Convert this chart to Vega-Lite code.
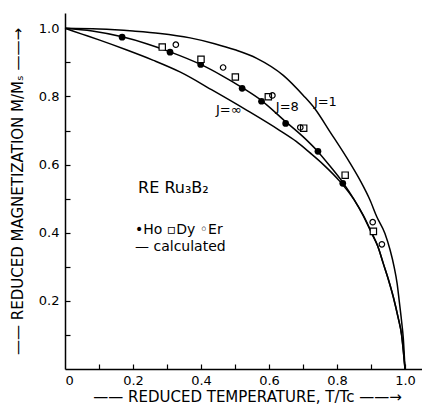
{
  "$schema": "https://vega.github.io/schema/vega-lite/v6.json",
  "width": 357,
  "height": 356,
  "autosize": "none",
  "padding": {"left": 65, "top": 13, "right": 0, "bottom": 35},
  "background": "white",
  "resolve": {"axis": {"x": "independent", "y": "independent"}},
  "config": {
    "view": {"stroke": null},
    "font": "DejaVu Sans",
    "axis": {
      "grid": false,
      "domainColor": "black",
      "domainWidth": 1.5,
      "tickColor": "black",
      "tickWidth": 1.2,
      "labelColor": "black",
      "labelFont": "DejaVu Sans",
      "labelFontSize": 13,
      "titleColor": "black",
      "titleFont": "DejaVu Sans",
      "titleFontSize": 15,
      "titleFontWeight": "normal"
    }
  },
  "datasets": {
    "curves": [
      {"T": 0, "M": 1.0, "curve": "J=1"},
      {"T": 0.1, "M": 0.998, "curve": "J=1"},
      {"T": 0.2, "M": 0.992, "curve": "J=1"},
      {"T": 0.28, "M": 0.985, "curve": "J=1"},
      {"T": 0.368, "M": 0.972, "curve": "J=1"},
      {"T": 0.44, "M": 0.955, "curve": "J=1"},
      {"T": 0.5, "M": 0.937, "curve": "J=1"},
      {"T": 0.564, "M": 0.912, "curve": "J=1"},
      {"T": 0.642, "M": 0.862, "curve": "J=1"},
      {"T": 0.701, "M": 0.803, "curve": "J=1"},
      {"T": 0.735, "M": 0.764, "curve": "J=1"},
      {"T": 0.779, "M": 0.697, "curve": "J=1"},
      {"T": 0.838, "M": 0.605, "curve": "J=1"},
      {"T": 0.87, "M": 0.55, "curve": "J=1"},
      {"T": 0.897, "M": 0.496, "curve": "J=1"},
      {"T": 0.917, "M": 0.447, "curve": "J=1"},
      {"T": 0.941, "M": 0.398, "curve": "J=1"},
      {"T": 0.956, "M": 0.35, "curve": "J=1"},
      {"T": 0.968, "M": 0.3, "curve": "J=1"},
      {"T": 0.977, "M": 0.25, "curve": "J=1"},
      {"T": 0.983, "M": 0.2, "curve": "J=1"},
      {"T": 0.99, "M": 0.14, "curve": "J=1"},
      {"T": 0.995, "M": 0.09, "curve": "J=1"},
      {"T": 1.0, "M": 0.0, "curve": "J=1"},
      {"T": 0, "M": 1.0, "curve": "J=8"},
      {"T": 0.08, "M": 0.992, "curve": "J=8"},
      {"T": 0.168, "M": 0.975, "curve": "J=8"},
      {"T": 0.24, "M": 0.955, "curve": "J=8"},
      {"T": 0.309, "M": 0.931, "curve": "J=8"},
      {"T": 0.399, "M": 0.894, "curve": "J=8"},
      {"T": 0.46, "M": 0.862, "curve": "J=8"},
      {"T": 0.521, "M": 0.826, "curve": "J=8"},
      {"T": 0.578, "M": 0.788, "curve": "J=8"},
      {"T": 0.649, "M": 0.726, "curve": "J=8"},
      {"T": 0.7, "M": 0.682, "curve": "J=8"},
      {"T": 0.744, "M": 0.638, "curve": "J=8"},
      {"T": 0.78, "M": 0.595, "curve": "J=8"},
      {"T": 0.817, "M": 0.548, "curve": "J=8"},
      {"T": 0.85, "M": 0.498, "curve": "J=8"},
      {"T": 0.877, "M": 0.45, "curve": "J=8"},
      {"T": 0.902, "M": 0.398, "curve": "J=8"},
      {"T": 0.92, "M": 0.36, "curve": "J=8"},
      {"T": 0.936, "M": 0.31, "curve": "J=8"},
      {"T": 0.952, "M": 0.26, "curve": "J=8"},
      {"T": 0.966, "M": 0.21, "curve": "J=8"},
      {"T": 0.98, "M": 0.15, "curve": "J=8"},
      {"T": 0.99, "M": 0.1, "curve": "J=8"},
      {"T": 1.0, "M": 0.0, "curve": "J=8"},
      {"T": 0, "M": 1.0, "curve": "J=inf"},
      {"T": 0.05, "M": 0.983, "curve": "J=inf"},
      {"T": 0.1, "M": 0.966, "curve": "J=inf"},
      {"T": 0.18, "M": 0.937, "curve": "J=inf"},
      {"T": 0.26, "M": 0.906, "curve": "J=inf"},
      {"T": 0.338, "M": 0.872, "curve": "J=inf"},
      {"T": 0.436, "M": 0.817, "curve": "J=inf"},
      {"T": 0.534, "M": 0.76, "curve": "J=inf"},
      {"T": 0.632, "M": 0.7, "curve": "J=inf"},
      {"T": 0.68, "M": 0.668, "curve": "J=inf"},
      {"T": 0.72, "M": 0.635, "curve": "J=inf"},
      {"T": 0.76, "M": 0.6, "curve": "J=inf"},
      {"T": 0.809, "M": 0.55, "curve": "J=inf"},
      {"T": 0.85, "M": 0.497, "curve": "J=inf"},
      {"T": 0.877, "M": 0.452, "curve": "J=inf"},
      {"T": 0.902, "M": 0.4, "curve": "J=inf"},
      {"T": 0.92, "M": 0.36, "curve": "J=inf"},
      {"T": 0.936, "M": 0.31, "curve": "J=inf"},
      {"T": 0.952, "M": 0.26, "curve": "J=inf"},
      {"T": 0.966, "M": 0.21, "curve": "J=inf"},
      {"T": 0.98, "M": 0.15, "curve": "J=inf"},
      {"T": 0.99, "M": 0.1, "curve": "J=inf"},
      {"T": 1.0, "M": 0.0, "curve": "J=inf"}
    ],
    "points": [
      {"T": 0.168, "M": 0.974, "element": "Ho"},
      {"T": 0.309, "M": 0.93, "element": "Ho"},
      {"T": 0.399, "M": 0.894, "element": "Ho"},
      {"T": 0.521, "M": 0.824, "element": "Ho"},
      {"T": 0.578, "M": 0.786, "element": "Ho"},
      {"T": 0.649, "M": 0.721, "element": "Ho"},
      {"T": 0.744, "M": 0.639, "element": "Ho"},
      {"T": 0.817, "M": 0.545, "element": "Ho"},
      {"T": 0.286, "M": 0.945, "element": "Dy"},
      {"T": 0.4, "M": 0.909, "element": "Dy"},
      {"T": 0.501, "M": 0.857, "element": "Dy"},
      {"T": 0.598, "M": 0.799, "element": "Dy"},
      {"T": 0.702, "M": 0.707, "element": "Dy"},
      {"T": 0.824, "M": 0.569, "element": "Dy"},
      {"T": 0.907, "M": 0.404, "element": "Dy"},
      {"T": 0.326, "M": 0.952, "element": "Er"},
      {"T": 0.465, "M": 0.885, "element": "Er"},
      {"T": 0.61, "M": 0.803, "element": "Er"},
      {"T": 0.692, "M": 0.709, "element": "Er"},
      {"T": 0.905, "M": 0.431, "element": "Er"},
      {"T": 0.932, "M": 0.366, "element": "Er"}
    ],
    "title": [
      {"T": 0.215, "M": 0.531, "label": "RE Ru₃B₂"}
    ],
    "notes": [
      {"T": 0.206, "M": 0.408, "label": "•Ho ▫Dy ◦Er"},
      {"T": 0.206, "M": 0.358, "label": "— calculated"}
    ],
    "jlabels": [
      {"T": 0.444, "M": 0.76, "label": "J=∞"},
      {"T": 0.62, "M": 0.768, "label": "J=8"},
      {"T": 0.732, "M": 0.783, "label": "J=1"}
    ]
  },
  "layer": [
    {
      "data": {"name": "curves"},
      "mark": {"type": "line", "color": "black", "strokeWidth": 1.5, "interpolate": "monotone"},
      "encoding": {
        "x": {
          "field": "T", "type": "quantitative",
          "scale": {"domain": [0, 1.05], "nice": false, "zero": false},
          "axis": {
            "values": [0, 0.2, 0.4, 0.6, 0.8, 1.0],
            "labelExpr": "datum.value==0 ? '0' : format(datum.value,'.1f')",
            "ticks": false,
            "labelPadding": 5,
            "title": "—— REDUCED TEMPERATURE, T/Tc ——→",
            "titleBaseline": "alphabetic",
            "titleY": 32,
            "titleX": 182
          }
        },
        "y": {
          "field": "M", "type": "quantitative",
          "scale": {"domain": [0, 1.045], "nice": false, "zero": false},
          "axis": {
            "values": [0.2, 0.4, 0.6, 0.8, 1.0],
            "format": ".1f",
            "ticks": false,
            "labelPadding": 6,
            "title": "—— REDUCED MAGNETIZATION  M/Mₛ ——→",
            "titleBaseline": "middle",
            "titleX": -48,
            "titleY": 178
          }
        },
        "detail": {"field": "curve"}
      }
    },
    {
      "data": {"name": "curves"},
      "mark": {"type": "point", "opacity": 0},
      "encoding": {
        "x": {
          "field": "T", "type": "quantitative",
          "axis": {
            "orient": "top", "offset": -356, "labels": false, "domain": false,
            "tickSize": 5, "title": null,
            "values": [0.1, 0.2, 0.3, 0.4, 0.5, 0.6, 0.7, 0.8, 0.9, 1.0]
          }
        },
        "y": {
          "field": "M", "type": "quantitative",
          "axis": {
            "orient": "right", "offset": -357, "labels": false, "domain": false,
            "tickSize": 5, "title": null,
            "values": [0.1, 0.2, 0.3, 0.4, 0.5, 0.6, 0.7, 0.8, 0.9, 1.0]
          }
        }
      }
    },
    {
      "mark": {"type": "rule", "color": "black", "strokeWidth": 1.5},
      "encoding": {"y": {"datum": 1.045, "axis": null}}
    },
    {
      "data": {"name": "points"},
      "transform": [{"filter": "datum.element == 'Ho'"}],
      "mark": {"type": "point", "shape": "circle", "filled": true, "color": "black", "size": 45, "opacity": 1},
      "encoding": {
        "x": {"field": "T", "type": "quantitative", "axis": null},
        "y": {"field": "M", "type": "quantitative", "axis": null}
      }
    },
    {
      "data": {"name": "points"},
      "transform": [{"filter": "datum.element == 'Dy'"}],
      "mark": {"type": "point", "shape": "square", "filled": false, "color": "black", "fill": "white", "fillOpacity": 1, "size": 40, "strokeWidth": 1.2, "opacity": 1},
      "encoding": {
        "x": {"field": "T", "type": "quantitative", "axis": null},
        "y": {"field": "M", "type": "quantitative", "axis": null}
      }
    },
    {
      "data": {"name": "points"},
      "transform": [{"filter": "datum.element == 'Er'"}],
      "mark": {"type": "point", "shape": "circle", "filled": false, "color": "black", "size": 30, "strokeWidth": 1.2, "opacity": 1},
      "encoding": {
        "x": {"field": "T", "type": "quantitative", "axis": null},
        "y": {"field": "M", "type": "quantitative", "axis": null}
      }
    },
    {
      "data": {"name": "title"},
      "mark": {"type": "text", "align": "left", "baseline": "middle", "fontSize": 16, "font": "DejaVu Sans", "color": "black"},
      "encoding": {
        "x": {"field": "T", "type": "quantitative", "axis": null},
        "y": {"field": "M", "type": "quantitative", "axis": null},
        "text": {"field": "label"}
      }
    },
    {
      "data": {"name": "notes"},
      "mark": {"type": "text", "align": "left", "baseline": "middle", "fontSize": 14, "font": "DejaVu Sans", "color": "black"},
      "encoding": {
        "x": {"field": "T", "type": "quantitative", "axis": null},
        "y": {"field": "M", "type": "quantitative", "axis": null},
        "text": {"field": "label"}
      }
    },
    {
      "data": {"name": "jlabels"},
      "mark": {"type": "text", "align": "left", "baseline": "middle", "fontSize": 13, "font": "DejaVu Sans", "color": "black"},
      "encoding": {
        "x": {"field": "T", "type": "quantitative", "axis": null},
        "y": {"field": "M", "type": "quantitative", "axis": null},
        "text": {"field": "label"}
      }
    }
  ]
}
